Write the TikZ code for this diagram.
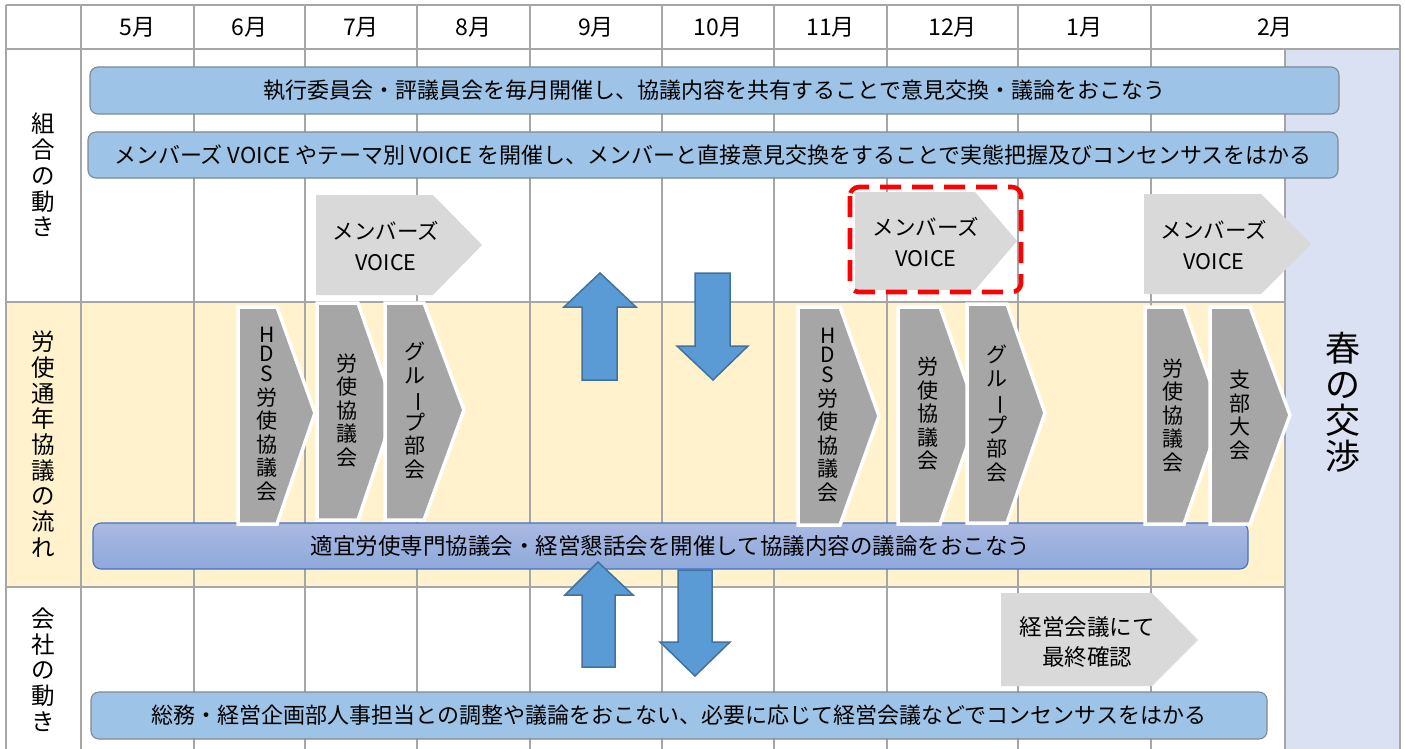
\documentclass[tikz,border=0pt]{standalone}
\usepackage{fontspec}
\usepackage{graphicx}
\setmainfont{Noto Sans CJK JP}
\definecolor{gridc}{HTML}{A6A6A6}
\definecolor{yel}{HTML}{FFF2CC}
\definecolor{spring}{HTML}{D9E1F2}
\definecolor{barblue}{HTML}{9DC3E6}
\definecolor{barline}{HTML}{808891}
\definecolor{lgray}{HTML}{D9D9D9}
\definecolor{dgray}{HTML}{A6A6A6}
\definecolor{arrfill}{HTML}{5B9BD5}
\definecolor{arrline}{HTML}{41719C}
\definecolor{gtop}{HTML}{AAB9E2}
\definecolor{gbot}{HTML}{8EA9DB}
\definecolor{gline}{HTML}{4472C4}
\definecolor{dashred}{HTML}{FF0000}
\newcommand{\vbar}{\rotatebox[origin=c]{-90}{ー}}
\tikzset{
  gridline/.style={draw=gridc, line width=1.6pt},
  bar/.style={draw=barline, line width=1.1pt, fill=barblue, rounded corners=8pt, inner sep=0pt,
    font=\fontsize{22}{26}\selectfont},
  gbar/.style={draw=gline, line width=1.1pt, top color=gtop, bottom color=gbot, rounded corners=8pt,
    inner sep=0pt, font=\fontsize{22.5}{26}\selectfont},
  pentlight/.style={fill=lgray},
  chev/.style={fill=dgray, draw=white, line width=3.5pt, line join=miter},
  blockarrow/.style={fill=arrfill, draw=arrline, line width=1.5pt, line join=miter},
  month/.style={font=\fontsize{23}{26}\selectfont, inner sep=0pt},
  rowlabel/.style={font=\fontsize{23.5}{25.7}\selectfont, align=center, inner sep=0pt},
  chevtext/.style={font=\fontsize{21}{23.5}\selectfont, align=center, inner sep=0pt},
  penttext/.style={font=\fontsize{21.5}{30.5}\selectfont, align=center, inner sep=0pt},
  redbox/.style={draw=dashred, line width=4.6pt, dash pattern=on 21pt off 11pt, rounded corners=9pt},
}
\begin{document}
\begin{tikzpicture}[x=1pt,y=-1pt]
\useasboundingbox (0,0) rectangle (1405,749);
\fill[white] (0,0) rectangle (1405,749);
% backgrounds
\fill[yel] (6,302) rectangle (1285,587);
\fill[spring] (1285,49) rectangle (1400,749);
% grid
\draw[gridline] (6,5) -- (1400,5);
\draw[gridline] (6,49) -- (1400,49);
\draw[gridline] (6,302) -- (1285,302);
\draw[gridline] (6,587) -- (1285,587);
\foreach \xx in {6,81,194,305,417,530,662,774,887,1018,1151,1400}
  \draw[gridline] (\xx,5) -- (\xx,749);
\draw[gridline] (1285,49) -- (1285,749);
% months
\node[month] (m5) at (137.5,27) {5月};
\node[month] (m6) at (249.5,27) {6月};
\node[month] (m7) at (361,27) {7月};
\node[month] (m8) at (473.5,27) {8月};
\node[month] (m9) at (596,27) {9月};
\node[month] (m10) at (718,27) {10月};
\node[month] (m11) at (830.5,27) {11月};
\node[month] (m12) at (952.5,27) {12月};
\node[month] (m1) at (1084.5,27) {1月};
\node[month] (m2) at (1275,27) {2月};
% row labels
\node[rowlabel] (lab1) at (43,175) {組\\合\\の\\動\\き};
\node[rowlabel] (lab2) at (43,444) {労\\使\\通\\年\\協\\議\\の\\流\\れ};
\node[rowlabel] (lab3) at (43,669.5) {会\\社\\の\\動\\き};
\node[font=\fontsize{35}{36}\selectfont, align=center, inner sep=0pt] (spring) at (1343,402) {春\\の\\交\\渉};
% row 1 bars
\node[bar, minimum width=1249pt, minimum height=47pt] (b1) at (714.5,90.5)
  {執行委員会・評議員会を毎月開催し、協議内容を共有することで意見交換・議論をおこなう};
\node[bar, minimum width=1250pt, minimum height=46pt] (b2) at (713,155)
  {メンバーズ VOICE やテーマ別 VOICE を開催し、メンバーと直接意見交換をすることで実態把握及びコンセンサスをはかる};
% membership pentagons
\fill[pentlight] (316,195) -- (433,195) -- (482,245) -- (433,295) -- (316,295) -- cycle;
\node[penttext] (v1) at (386,246) {メンバーズ\\VOICE};
\fill[pentlight] (855,192) -- (975,192) -- (1017,241) -- (975,290) -- (855,290) -- cycle;
\node[penttext] (v2) at (926,242) {メンバーズ\\VOICE};
\draw[redbox] (850,187) rectangle (1021,292);
\fill[pentlight] (1144,194) -- (1261,194) -- (1311,244) -- (1261,294) -- (1144,294) -- cycle;
\node[penttext] (v3) at (1214,245) {メンバーズ\\VOICE};
% row 2 bar
\node[gbar, minimum width=1155pt, minimum height=46pt] (b3) at (670.5,546)
  {適宜労使専門協議会・経営懇話会を開催して協議内容の議論をおこなう};
% chevrons
\path[chev] (238,307) -- (277,307) -- (315,413) -- (277,524) -- (238,524) -- cycle;
\node[chevtext] (c1) at (267,414) {H\\[-4pt]D\\[-3.6pt]S\\労\\使\\協\\議\\会};
\path[chev] (317,303) -- (358,303) -- (395,410) -- (358,520) -- (317,520) -- cycle;
\node[chevtext] (c2) at (347,410.5) {労\\使\\協\\議\\会};
\path[chev] (385,303) -- (424,303) -- (464,410) -- (424,520) -- (385,520) -- cycle;
\node[chevtext] (c3) at (415,410.5) {グ\\ル\\\vbar\\プ\\部\\会};
\path[chev] (798,307) -- (840,307) -- (879,416) -- (840,525) -- (798,525) -- cycle;
\node[chevtext] (c4) at (828,415) {H\\[-4pt]D\\[-3.6pt]S\\労\\使\\協\\議\\会};
\path[chev] (898,307) -- (940,307) -- (978,415) -- (940,524) -- (898,524) -- cycle;
\node[chevtext] (c5) at (928,414) {労\\使\\協\\議\\会};
\path[chev] (967,304) -- (1007,304) -- (1045,413) -- (1007,523) -- (967,523) -- cycle;
\node[chevtext] (c6) at (997,413.5) {グ\\ル\\\vbar\\プ\\部\\会};
\path[chev] (1145,307) -- (1184,307) -- (1222,415) -- (1184,524) -- (1145,524) -- cycle;
\node[chevtext] (c7) at (1173,415.5) {労\\使\\協\\議\\会};
\path[chev] (1210,307) -- (1250,307) -- (1290,415) -- (1250,524) -- (1210,524) -- cycle;
\node[chevtext] (c8) at (1240,415) {支\\部\\大\\会};
% block arrows
\path[blockarrow] (600,273) -- (636,307) -- (617,307) -- (617,380) -- (582,380) -- (582,307) -- (564,307) -- cycle;
\path[blockarrow] (695,273) -- (730,273) -- (730,346) -- (748,346) -- (713,380) -- (677,346) -- (695,346) -- cycle;
\path[blockarrow] (598,562) -- (633,595) -- (615,595) -- (615,667) -- (582,667) -- (582,595) -- (565,595) -- cycle;
\path[blockarrow] (678,570) -- (712,570) -- (712,642) -- (730,642) -- (695,676) -- (660,642) -- (678,642) -- cycle;
% company row
\fill[pentlight] (1001,593) -- (1152,593) -- (1198,640) -- (1152,686) -- (1001,686) -- cycle;
\node[penttext, font=\fontsize{22.5}{30}\selectfont] (kk) at (1087,642) {経営会議にて\\最終確認};
\node[bar, minimum width=1176pt, minimum height=47pt] (b4) at (679,715.5)
  {総務・経営企画部人事担当との調整や議論をおこない、必要に応じて経営会議などでコンセンサスをはかる};
\end{tikzpicture}
\end{document}
